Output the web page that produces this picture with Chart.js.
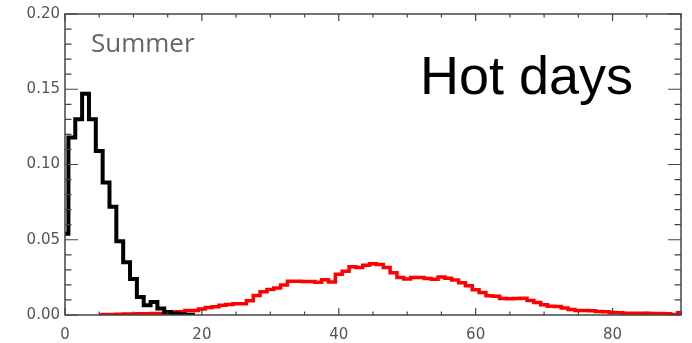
<!DOCTYPE html>
<html>
<head>
<meta charset="utf-8">
<script src="https://cdn.jsdelivr.net/npm/chart.js@4"></script>
<style>
  html, body { margin: 0; padding: 0; background: #fff; }
  #wrap { width: 692px; height: 343px; }
</style>
</head>
<body>
<div id="wrap"><canvas id="hotDaysChart" width="692" height="343"></canvas></div>
<script>
// Histogram bins (number of hot days) and frequencies
const blackDays = [0, 1, 2, 3, 4, 5, 6, 7, 8, 9, 10, 11, 12, 13, 14, 15, 16, 17, 18, 19];
const blackFreq = [0.054, 0.118, 0.130, 0.147, 0.130, 0.109, 0.088, 0.072, 0.049, 0.035,
                   0.024, 0.012, 0.0065, 0.0086, 0.0043, 0.002, 0.001, 0.0005, 0.0002, 0.0001];

const redDays = [5, 6, 7, 8, 9, 10, 11, 12, 13, 14, 15, 16, 17, 18, 19, 20, 21, 22, 23, 24,
                 25, 26, 27, 28, 29, 30, 31, 32, 33, 34, 35, 36, 37, 38, 39, 40, 41, 42, 43, 44,
                 45, 46, 47, 48, 49, 50, 51, 52, 53, 54, 55, 56, 57, 58, 59, 60, 61, 62, 63, 64,
                 65, 66, 67, 68, 69, 70, 71, 72, 73, 74, 75, 76, 77, 78, 79, 80, 81, 82, 83, 84,
                 85, 86, 87, 88, 89, 90];
const redFreq = [0.0002, 0.0003, 0.0004, 0.0005, 0.0006, 0.0007, 0.0008, 0.0009, 0.001, 0.001,
                 0.0012, 0.002, 0.0022, 0.003, 0.003, 0.004, 0.005, 0.0055, 0.0065, 0.007,
                 0.0075, 0.0075, 0.0095, 0.013, 0.0155, 0.017, 0.018, 0.020, 0.0225, 0.0225,
                 0.0223, 0.0222, 0.0218, 0.0235, 0.022, 0.027, 0.029, 0.032, 0.0315, 0.033,
                 0.034, 0.0335, 0.0315, 0.028, 0.025, 0.024, 0.025, 0.025, 0.0242, 0.0238,
                 0.0252, 0.0245, 0.0232, 0.0215, 0.0195, 0.0168, 0.015, 0.0128, 0.0125, 0.011,
                 0.0108, 0.011, 0.0112, 0.0096, 0.0083, 0.0068, 0.0058, 0.0056, 0.0047, 0.0036,
                 0.003, 0.003, 0.0028, 0.0023, 0.0022, 0.0016, 0.0015, 0.0012, 0.0012, 0.0012,
                 0.0011, 0.001, 0.001, 0.0009, 0.0003, 0.0015];

const xTickLabels = [0, 20, 40, 60, 80];
const yTickLabels = [0.00, 0.05, 0.10, 0.15, 0.20];

const seasonLabel = 'Summer';
const panelTitle = 'Hot days';

function toPoints(xs, ys) {
    return xs.map((x, i) => ({ x: x, y: ys[i] }));
}

// IDL-style frame: box around the plot with ticks pointing inwards on all sides
const frameTicks = {
    id: 'frameTicks',
    afterDatasetsDraw(chart) {
        const { ctx, chartArea: a, scales: { x, y } } = chart;
        ctx.save();
        ctx.strokeStyle = '#444';
        ctx.lineWidth = 1.5;
        ctx.strokeRect(a.left, a.top, a.right - a.left, a.bottom - a.top);

        ctx.lineWidth = 1.2;
        ctx.beginPath();
        for (let v = 0; v <= 90; v += 5) {
            const px = x.getPixelForValue(v);
            const len = (v % 20 === 0) ? 7 : 3.5;
            ctx.moveTo(px, a.bottom); ctx.lineTo(px, a.bottom - len);
            ctx.moveTo(px, a.top); ctx.lineTo(px, a.top + len);
        }
        for (let i = 0; i <= 20; i++) {
            const py = y.getPixelForValue(i / 100);
            const len = (i % 5 === 0) ? 13 : 6.5;
            ctx.moveTo(a.left, py); ctx.lineTo(a.left + len, py);
            ctx.moveTo(a.right, py); ctx.lineTo(a.right - len, py);
        }
        ctx.stroke();

        // Panel annotations
        ctx.fillStyle = '#666';
        ctx.font = '26px "Open Sans"';
        ctx.textBaseline = 'alphabetic';
        ctx.textAlign = 'left';
        ctx.fillText(seasonLabel, 91, 52);

        ctx.fillStyle = '#000';
        ctx.font = '54px "Liberation Sans"';
        ctx.fillText(panelTitle, 420, 94);
        ctx.restore();
    }
};

const ctx = document.getElementById('hotDaysChart').getContext('2d');
const hotDaysChart = new Chart(ctx, {
    type: 'line',
    data: {
        datasets: [{
            label: 'Present',
            data: toPoints(blackDays, blackFreq),
            borderColor: '#000',
            borderWidth: 4,
            stepped: 'middle',
            pointRadius: 0,
            fill: false,
        }, {
            label: 'Future',
            data: toPoints(redDays, redFreq),
            borderColor: '#ff0000',
            borderWidth: 3.5,
            stepped: 'middle',
            pointRadius: 0,
            fill: false,
        }]
    },
    options: {
        responsive: false,
        animation: false,
        layout: { padding: { top: 7, right: 11, left: 0, bottom: 0 } },
        plugins: {
            legend: { display: false },
            tooltip: { enabled: false },
        },
        scales: {
            x: {
                type: 'linear',
                min: 0,
                max: 90,
                grid: { display: false, drawTicks: false },
                border: { display: false },
                afterFit: (scale) => { scale.height = 28; },
                afterBuildTicks: (scale) => {
                    scale.ticks = xTickLabels.map(v => ({ value: v }));
                },
                ticks: {
                    padding: 11,
                    color: '#555',
                    font: { family: 'DejaVu Sans', size: 15 },
                    maxRotation: 0,
                    callback: (v) => String(v),
                }
            },
            y: {
                min: 0,
                max: 0.2,
                grid: { display: false, drawTicks: false },
                border: { display: false },
                afterFit: (scale) => { scale.width = 65; },
                afterBuildTicks: (scale) => {
                    scale.ticks = yTickLabels.map(v => ({ value: v }));
                },
                ticks: {
                    padding: 5,
                    color: '#555',
                    font: { family: 'DejaVu Sans', size: 15 },
                    callback: (v) => Number(v).toFixed(2),
                }
            }
        }
    },
    plugins: [frameTicks]
});
</script>
</body>
</html>
